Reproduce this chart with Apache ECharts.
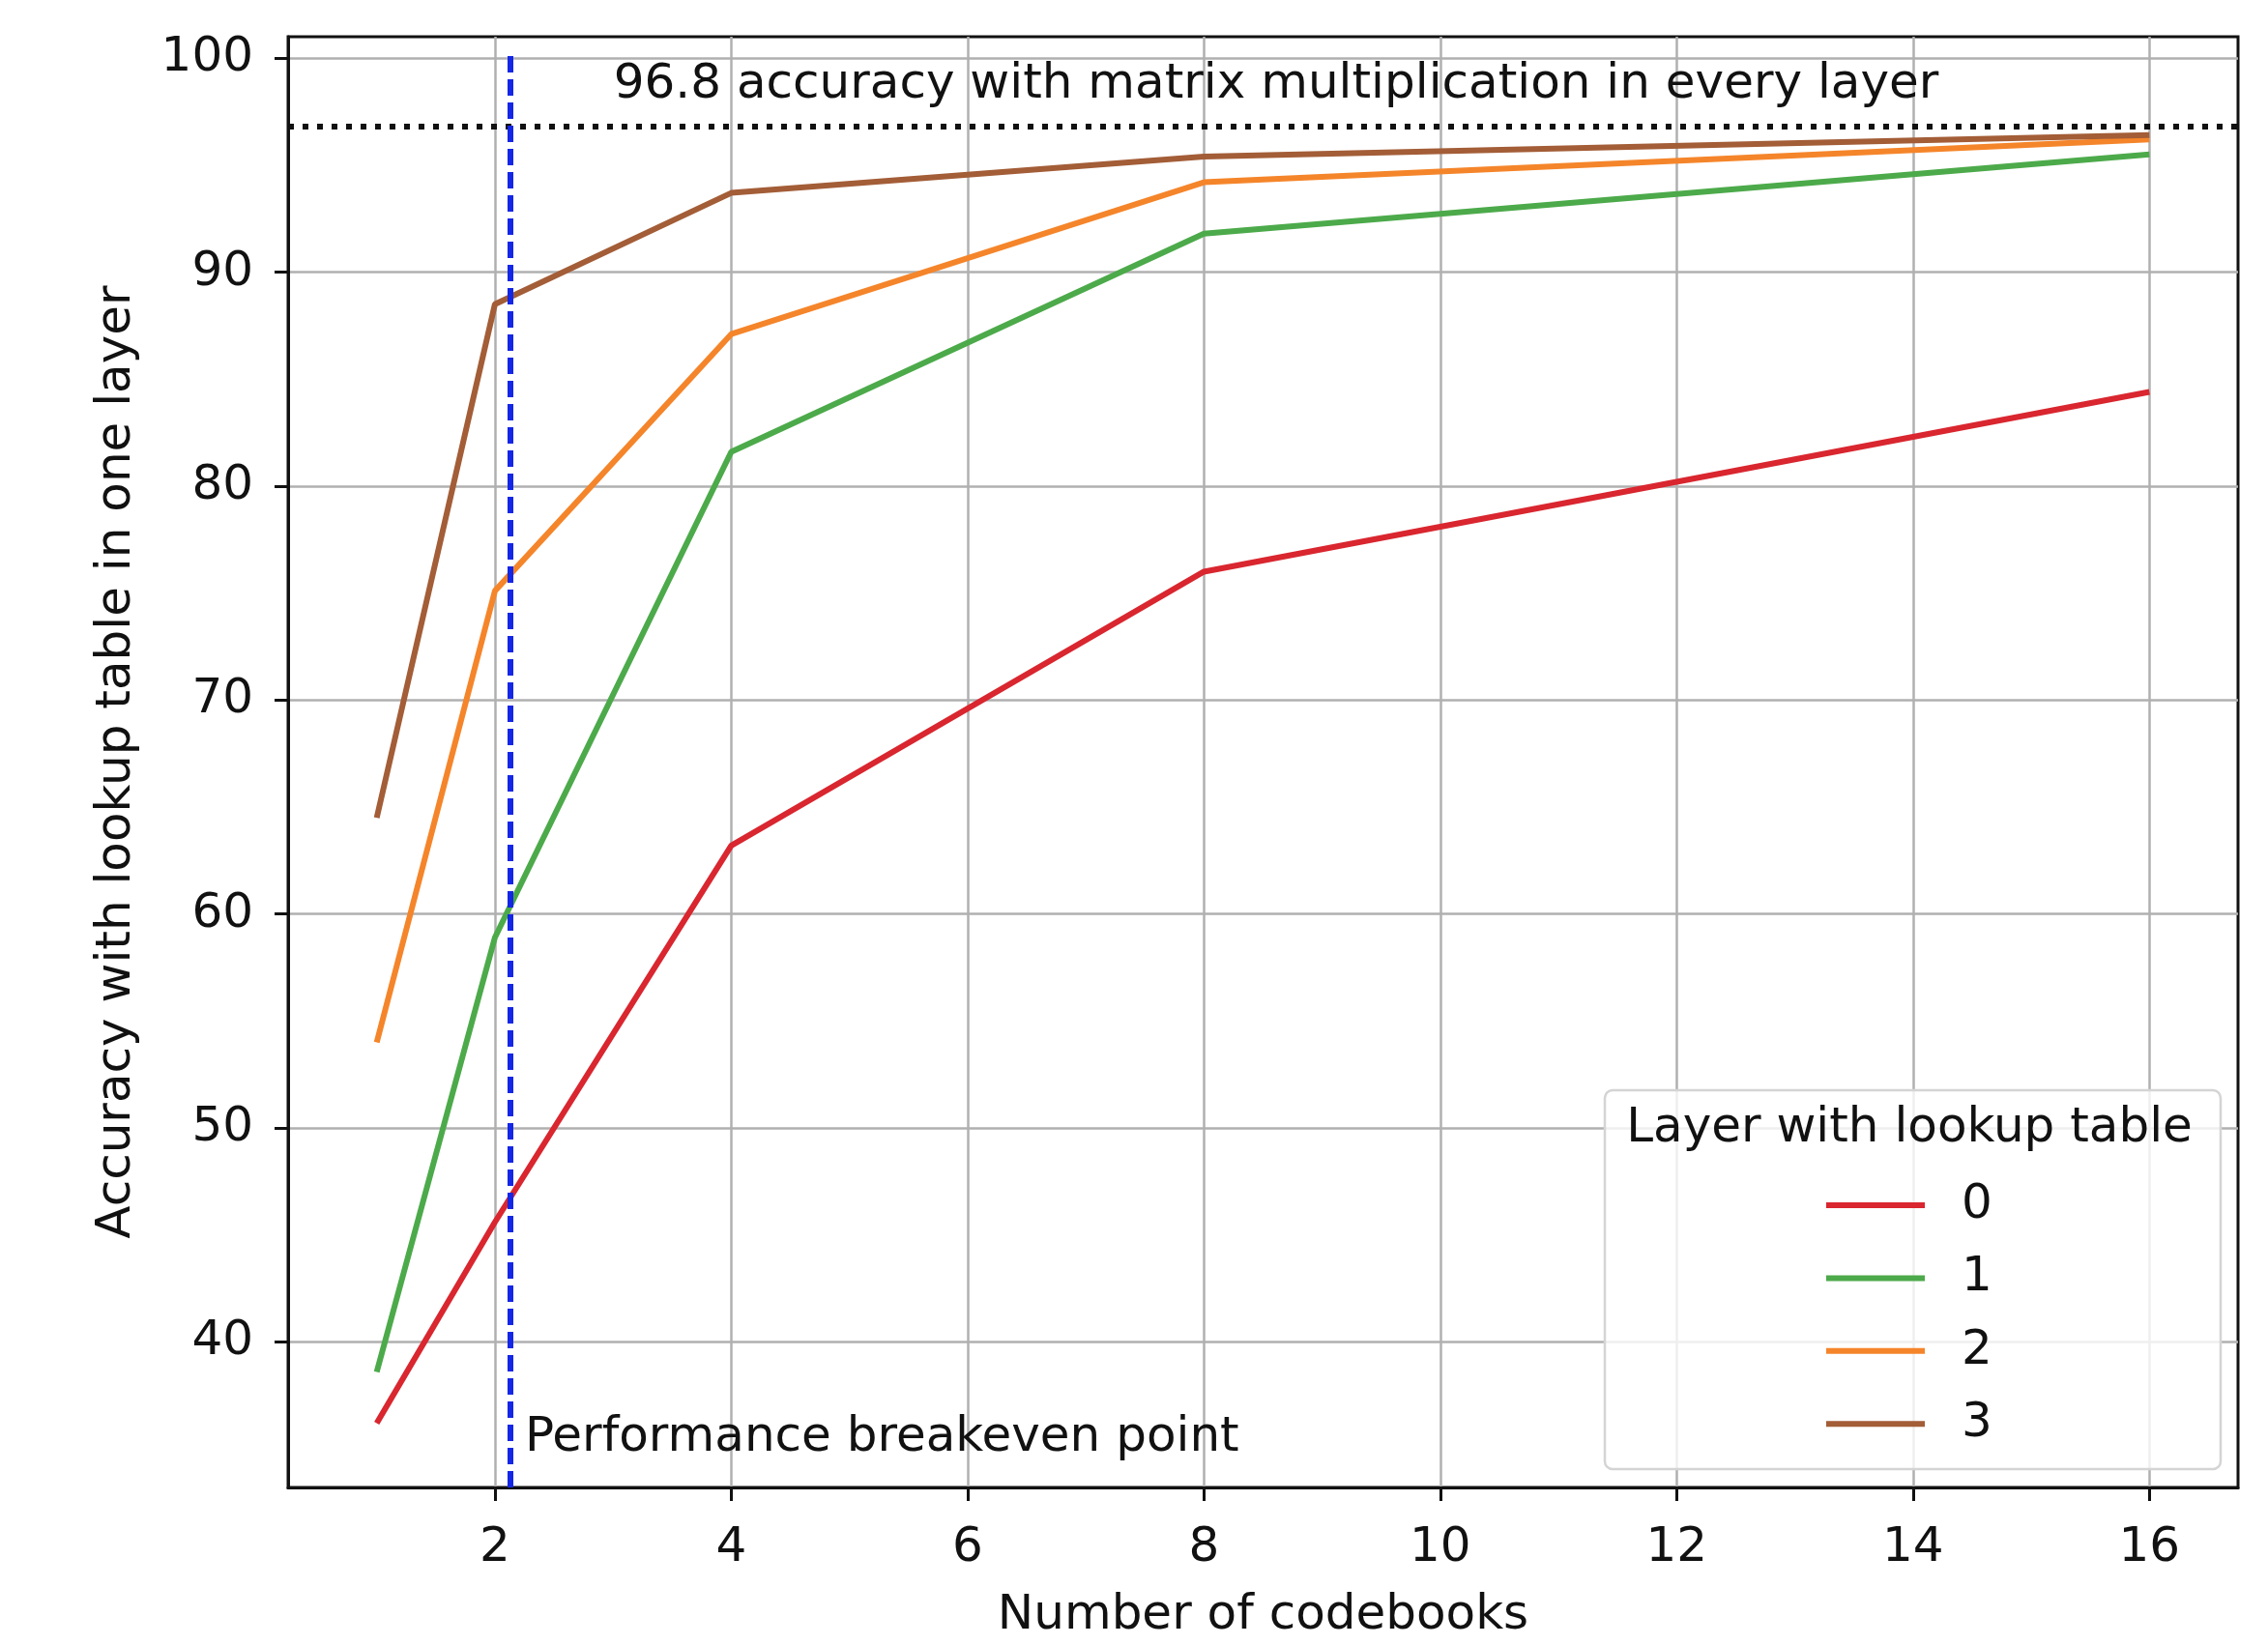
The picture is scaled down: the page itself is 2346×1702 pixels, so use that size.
<!DOCTYPE html>
<html>
<head>
<meta charset="utf-8">
<title>Accuracy vs number of codebooks</title>
<script src="https://cdn.jsdelivr.net/npm/echarts@6/dist/echarts.min.js"></script>
<style>
  html, body { margin: 0; height: 100%; background: #fff; }
  #main { width: 2346px; height: 1702px; }
</style>
</head>
<body>
<div id="main"></div>
<script>
// number of codebooks (x)
var codebooks = [1, 2, 4, 8, 16];
// accuracy per layer that uses the lookup table
var layer0 = [36.2, 45.6, 63.2, 76.0, 84.4];
var layer1 = [38.6, 58.9, 81.6, 91.8, 95.5];
var layer2 = [54.0, 75.1, 87.1, 94.2, 96.2];
var layer3 = [64.5, 88.5, 93.7, 95.4, 96.4];
var layerNames = ['0', '1', '2', '3'];
var xTicks = [2, 4, 6, 8, 10, 12, 14, 16];
var yTicks = [40, 50, 60, 70, 80, 90, 100];
var baseline = 96.8;      // matrix multiplication everywhere
var breakeven = 2.13;     // performance breakeven point

var colors = ['#d9262f', '#4caa4a', '#f5852a', '#a35d37'];
var font = 'DejaVu Sans';
var fs = 50;

function pairs(ys) {
  return codebooks.map(function (x, i) { return [x, ys[i]]; });
}

var chart = echarts.init(document.getElementById('main'));

var allLayers = [layer0, layer1, layer2, layer3];
var series = allLayers.map(function (ys, i) {
  return {
    name: layerNames[i],
    type: 'line',
    data: pairs(ys),
    symbol: 'none',
    lineStyle: { width: 6, color: colors[i], cap: 'butt' },
    itemStyle: { color: colors[i] },
    z: 3
  };
});

// reference lines and notes live on the first series
series[0].markLine = {
  silent: true,
  symbol: 'none',
  label: { show: false },
  data: [
    [{ coord: [0.25, baseline], lineStyle: { color: '#111', width: 6, type: [6, 9] } },
     { coord: [16.75, baseline] }],
    [{ coord: [breakeven, 33.2], lineStyle: { color: '#1426e6', width: 6, type: [17, 7] } },
     { coord: [breakeven, 100.4] }]
  ]
};
series[0].markPoint = {
  silent: true,
  symbol: 'rect',
  symbolSize: 1,
  itemStyle: { color: 'rgba(0,0,0,0)' },
  label: { show: true, position: 'right', distance: 0, color: '#111', fontFamily: font, fontSize: fs },
  data: [
    { coord: [3.0, 98.75], label: { formatter: baseline + ' accuracy with matrix multiplication in every layer' } },
    { coord: [2.25, 35.5], label: { formatter: 'Performance breakeven point' } }
  ]
};

var option = {
  backgroundColor: '#fff',
  animation: false,
  grid: {
    left: 298, right: 31, top: 38, bottom: 159,
    show: true, borderColor: '#111', borderWidth: 3, backgroundColor: 'transparent'
  },
  xAxis: {
    type: 'value',
    min: 0.25, max: 16.75,
    splitNumber: 8,
    name: 'Number of codebooks',
    nameLocation: 'middle',
    nameGap: 108,
    nameTextStyle: { fontFamily: font, fontSize: fs, color: '#111' },
    axisLine: { show: true, lineStyle: { color: '#111', width: 3 } },
    axisTick: { show: true, length: 14, lineStyle: { color: '#111', width: 3 }, customValues: xTicks },
    axisLabel: { fontFamily: font, fontSize: fs, color: '#111', margin: 38, customValues: xTicks },
    splitLine: { show: true, lineStyle: { color: '#b0b0b0', width: 2.5 } }
  },
  yAxis: {
    type: 'value',
    min: 33.2, max: 101,
    splitNumber: 7,
    name: 'Accuracy with lookup table in one layer',
    nameLocation: 'middle',
    nameGap: 152,
    nameTextStyle: { fontFamily: font, fontSize: fs, color: '#111' },
    axisLine: { show: true, lineStyle: { color: '#111', width: 3 } },
    axisTick: { show: true, length: 14, lineStyle: { color: '#111', width: 3 }, customValues: yTicks },
    axisLabel: { fontFamily: font, fontSize: fs, color: '#111', margin: 36, customValues: yTicks },
    splitLine: { show: true, lineStyle: { color: '#b0b0b0', width: 2.5 } }
  },
  legend: {
    data: layerNames.map(function (n) { return { name: n, icon: 'rect' }; }),
    orient: 'vertical',
    left: 1884,
    top: 1217,
    itemWidth: 102,
    itemHeight: 6,
    itemGap: 25.4,
    z: 6,
    textStyle: { fontFamily: font, fontSize: fs, color: '#111', lineHeight: 50, padding: [0, 0, 0, 33] }
  },
  graphic: [
    {
      type: 'rect',
      z: 5,
      silent: true,
      shape: { x: 1660, y: 1128, width: 637, height: 392, r: 8 },
      style: { fill: 'rgba(255,255,255,0.8)', stroke: '#d4d4d4', lineWidth: 2.5 }
    },
    {
      type: 'text',
      z: 6,
      silent: true,
      x: 1975,
      y: 1168,
      style: {
        text: 'Layer with lookup table',
        fontFamily: font, fontSize: fs, fill: '#111',
        textAlign: 'center', textVerticalAlign: 'middle'
      }
    }
  ],
  series: series
};

chart.setOption(option);
</script>
</body>
</html>
